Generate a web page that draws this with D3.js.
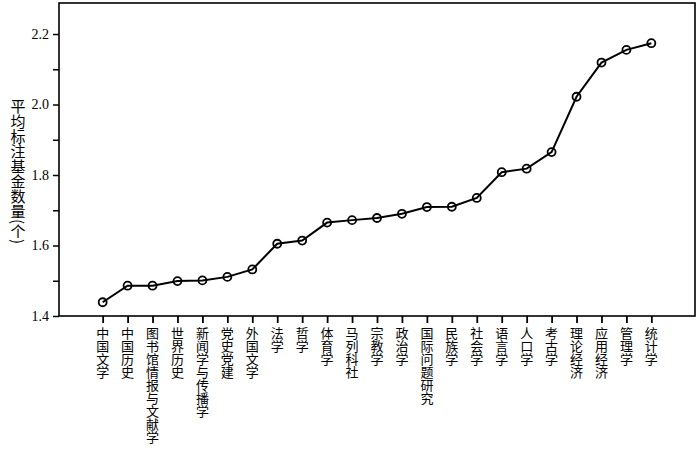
<!DOCTYPE html>
<html><head><meta charset="utf-8">
<script src="https://cdn.jsdelivr.net/npm/d3@7"></script>
<style>body{margin:0;background:#fff}svg{display:block}</style>
</head><body><svg id="c" width="700" height="450"></svg>
<script>
const categories = ["中国文学","中国历史","图书馆情报与文献学","世界历史","新闻学与传播学","党史党建","外国文学","法学","哲学","体育学","马列科社","宗教学","政治学","国际问题研究","民族学","社会学","语言学","人口学","考古学","理论经济","应用经济","管理学","统计学"];
const values = [1.439,1.486,1.486,1.499,1.501,1.511,1.532,1.605,1.614,1.665,1.672,1.678,1.690,1.709,1.710,1.735,1.808,1.818,1.865,2.022,2.119,2.155,2.174];
const yTicks = [1.4,1.6,1.8,2.0,2.2];
const yMinorTicks = [1.5,1.7,1.9,2.1];
const yLabel = "平均标注基金数量(个)";

const svg = d3.select("#c");
const L=59, R=695, T=3, B=316;
const x = d3.scalePoint().domain(categories).range([L,R]).padding(1.75);
const y = d3.scaleLinear().domain([1.4,2.288]).range([B,T]);
const cjk = "'Noto Sans CJK SC','Noto Sans',sans-serif";

// frame
svg.append("rect").attr("x",L).attr("y",T).attr("width",R-L).attr("height",B-T)
  .attr("fill","none").attr("stroke","#000").attr("stroke-width",1.6);

// y axis
const ya = svg.append("g").attr("transform",`translate(${L},0)`)
  .call(d3.axisLeft(y).tickValues(yTicks).tickFormat(d3.format(".1f")).tickSize(6).tickPadding(4));
ya.select(".domain").remove();
ya.selectAll("line").attr("stroke","#000").attr("stroke-width",1.5);
ya.selectAll("text").attr("font-family","'Liberation Serif',serif").attr("font-size",14).attr("fill","#000");
const ym = svg.append("g").attr("transform",`translate(${L},0)`)
  .call(d3.axisLeft(y).tickValues(yMinorTicks).tickFormat("").tickSize(6));
ym.select(".domain").remove();
ym.selectAll("line").attr("stroke","#000").attr("stroke-width",1.5);

// x axis
const xa = svg.append("g").attr("transform",`translate(0,${B})`)
  .call(d3.axisBottom(x).tickSize(7).tickFormat(""));
xa.select(".domain").remove();
xa.selectAll("line").attr("stroke","#000").attr("stroke-width",1.8);
svg.append("g").selectAll("text").data(categories).join("text")
  .attr("x",d=>x(d)).attr("y",327)
  .style("writing-mode","vertical-rl")
  .attr("font-family",cjk).attr("font-size",13).attr("fill","#000")
  .text(d=>d);

// y label
svg.append("text").attr("x",18).attr("y",99)
  .style("writing-mode","vertical-rl")
  .attr("font-family",cjk).attr("font-size",15).attr("fill","#000")
  .text(yLabel);

// line
svg.append("path").datum(values)
  .attr("fill","none").attr("stroke","#000").attr("stroke-width",2)
  .attr("d",d3.line().x((d,i)=>x(categories[i])).y(d=>y(d)));
svg.append("g").selectAll("circle").data(values).join("circle")
  .attr("cx",(d,i)=>x(categories[i])).attr("cy",d=>y(d)).attr("r",4)
  .attr("fill","none").attr("stroke","#000").attr("stroke-width",1.8);
</script></body></html>
